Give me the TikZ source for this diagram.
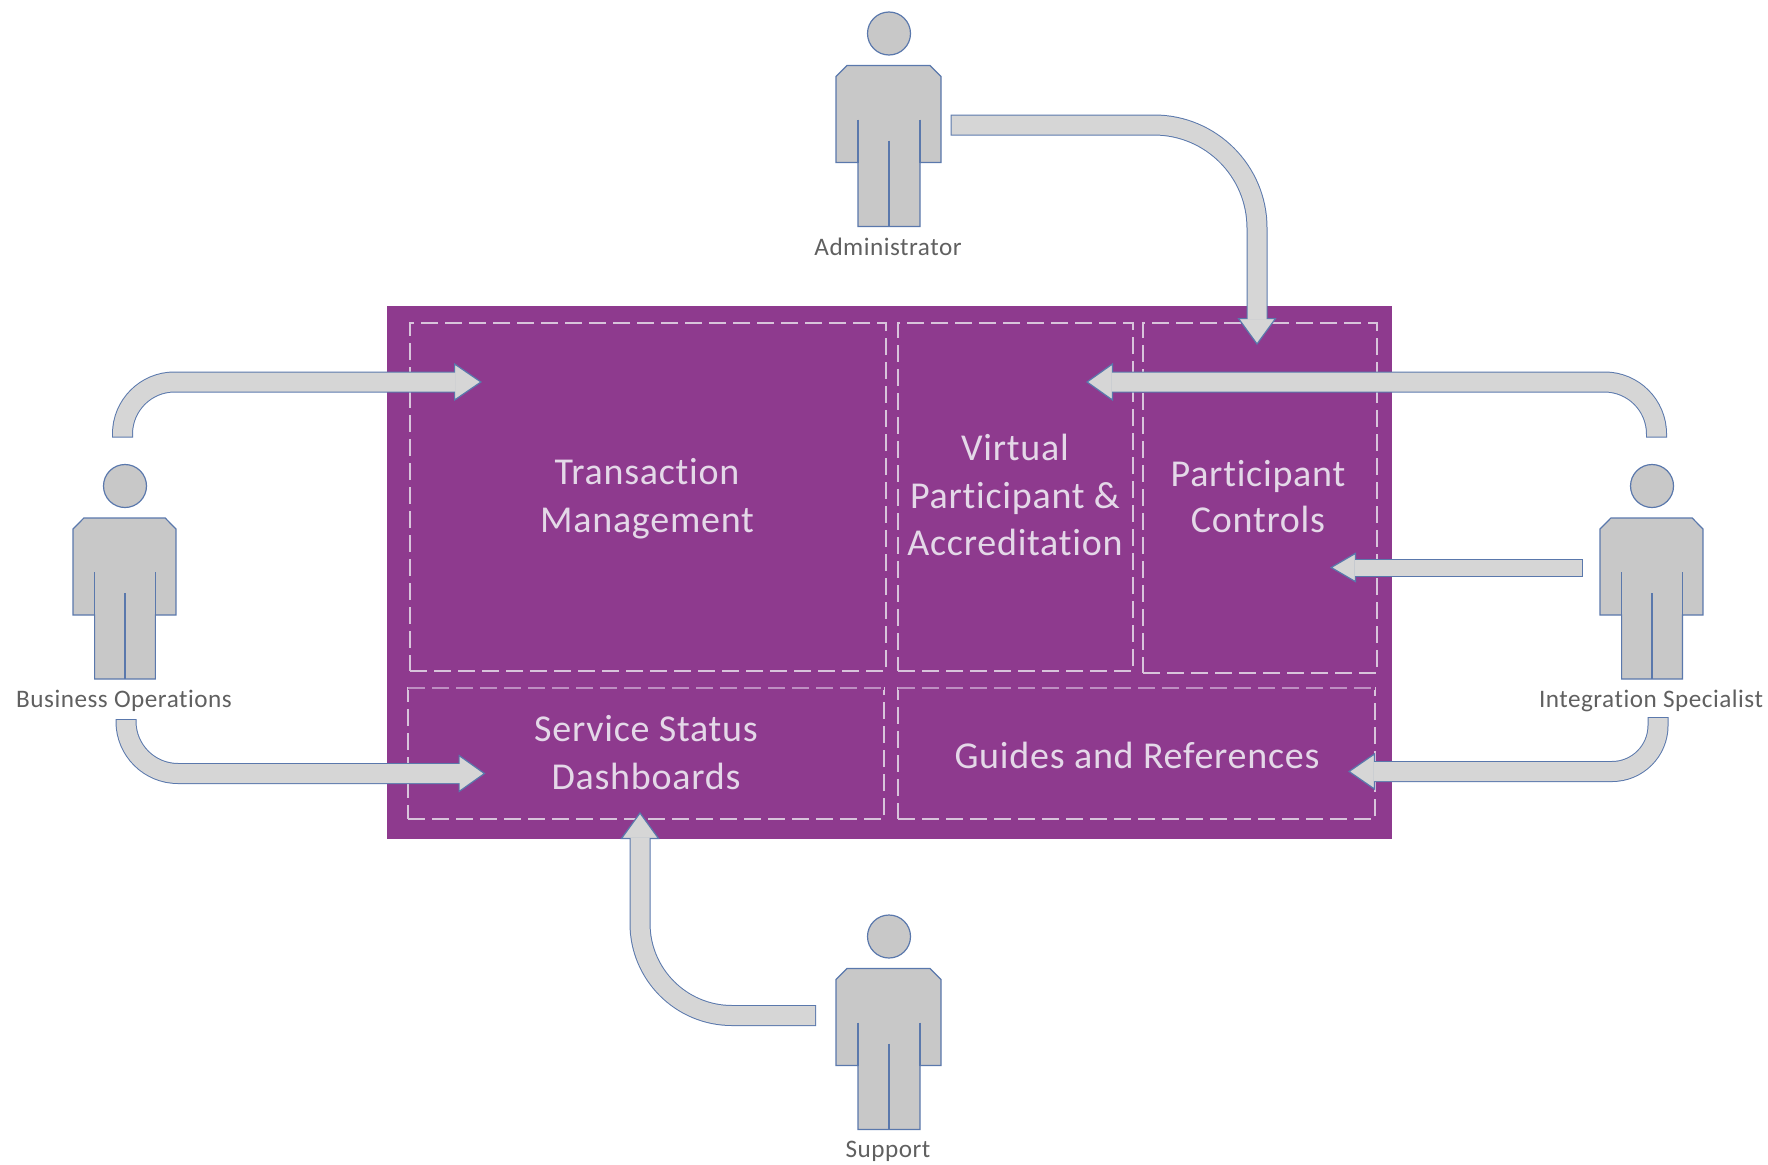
\documentclass[tikz,border=0pt]{standalone}
\usepackage{fontspec}
\setmainfont{Carlito}
\newfontfamily\widecarlito{Carlito}[LetterSpace=2,Ligatures=NoCommon]
\usetikzlibrary{arrows.meta}
\definecolor{panel}{HTML}{8E3A8E}
\definecolor{boxdash}{HTML}{D8C4DB}
\definecolor{boxdashtop}{HTML}{BE8FC2}
\definecolor{paneltext}{HTML}{E4D8E8}
\definecolor{personfill}{HTML}{C8C8C8}
\definecolor{arrowfill}{HTML}{D6D6D6}
\definecolor{bluedge}{HTML}{5A78AC}
\definecolor{labeltext}{HTML}{606060}
\tikzset{
  zone/.style={draw=boxdash, line width=1.5pt, dash pattern=on 17pt off 7pt, inner sep=0pt, outer sep=0pt},
  zonetext/.style={text=paneltext, align=center, font=\widecarlito\fontsize{38}{47.5}\selectfont, anchor=base},
  who/.style={text=labeltext, font=\widecarlito\fontsize{25.2}{28}\selectfont, anchor=base},
  personline/.style={draw=bluedge, line width=1.2pt, fill=personfill, line join=miter},
  limb/.style={draw=bluedge, line width=1.2pt},
  person/.pic={
    \node[circle, personline, minimum size=43pt, inner sep=0pt] (-head) at (0,0) {};
    \draw[personline] (-53,43) -- (-42,32) -- (41,32) -- (52,43) -- (52,129) -- (31,129) -- (31,193)
      -- (-31,193) -- (-31,129) -- (-53,129) -- cycle;
    \draw[limb] (-31,86) -- (-31,129);
    \draw[limb] (31,86) -- (31,129);
    \draw[limb] (0,107) -- (0,193);
  }
}
\newcommand{\blockarrow}[5]{%
  \draw[bluedge, line width=#1pt+2pt, rounded corners=#4pt,
     -{Triangle[length=#2pt, width=#3pt, fill=arrowfill, color=bluedge, line width=1.2pt]}] #5;
  \draw[arrowfill, line width=#1pt, rounded corners=#4pt, shorten <=1pt, shorten >=#2pt-1.5pt] #5;
}
\begin{document}
\begin{tikzpicture}[x=1pt, y=-1pt]
\useasboundingbox (0,0) rectangle (1768,1164);

\node[fill=panel, inner sep=0pt, minimum width=1005pt, minimum height=533pt] (panel) at (889.5,572.5) {};

\node[zone, minimum width=476pt, minimum height=348pt] (tm) at (648,497) {};
\node[zone, minimum width=235pt, minimum height=348pt] (vp) at (1015.5,497) {};
\node[zone, minimum width=234pt, minimum height=350pt] (pc) at (1260,498) {};
\node[zone, minimum width=476pt, minimum height=131pt] (ss) at (646,753.5) {};
\node[zone, minimum width=477pt, minimum height=131pt] (gr) at (1136.5,753.5) {};
\draw[panel, line width=3pt] (ss.north west) -- (ss.north east);
\draw[panel, line width=3pt] (gr.north west) -- (gr.north east);
\draw[boxdashtop, line width=2.6pt, dash pattern=on 17pt off 7pt] (ss.north west) -- (ss.north east);
\draw[boxdashtop, line width=2.6pt, dash pattern=on 17pt off 7pt] (gr.north west) -- (gr.north east);

\node[zonetext] (tmtext) at (647,532) {Transaction\\Management};
\node[zonetext] (vptext) at (1015,555.3) {Virtual\\[1pt]Participant \&\\[-1pt]Accreditation};
\node[zonetext] (pctext) at (1258,532) {Participant\\[-2pt]Controls};
\node[zonetext] (sstext) at (646,789) {Service Status\\Dashboards};
\node[zonetext] (grtext) at (1137,768) {Guides and References};

\pic (adm) at (889,33.5) {person};
\pic[xscale=.98] (biz) at (125,486) {person};
\pic[xscale=.98] (int) at (1652,486) {person};
\pic (sup) at (889,936.5) {person};

\node[who] (admlabel) at (888,255) {Administrator};
\node[who] (bizlabel) at (124,707.7) {Business Operations};
\node[who] (intlabel) at (1651,707.7) {Integration Specialist};
\node[who] (suplabel) at (888,1157.7) {Support};

\coordinate (a1s) at (950.5,125);   \coordinate (a1c) at (1257,125);  \coordinate (a1e) at (1257,345);
\coordinate (a2s) at (122.5,437.5); \coordinate (a2c) at (122.5,382); \coordinate (a2e) at (482,382);
\coordinate (a3s) at (126,719);     \coordinate (a3c) at (126,773.5); \coordinate (a3e) at (485.5,773.5);
\coordinate (a4s) at (1656.5,437.5);\coordinate (a4c) at (1656.5,382);\coordinate (a4e) at (1086,382);
\coordinate (a5s) at (1582.5,567.5);\coordinate (a5e) at (1330,567.5);
\coordinate (a6s) at (1658,717);    \coordinate (a6c) at (1658,771.5);\coordinate (a6e) at (1348,771.5);
\coordinate (a7s) at (816,1015.5);  \coordinate (a7c) at (640,1015.5);\coordinate (a7e) at (640,812);

\blockarrow{19}{27}{39}{103}{(a1s) -- (a1c) -- (a1e)}
\blockarrow{19}{28}{38}{52}{(a2s) -- (a2c) -- (a2e)}
\blockarrow{19}{27}{38}{52}{(a3s) -- (a3c) -- (a3e)}
\blockarrow{19}{27}{38}{52}{(a4s) -- (a4c) -- (a4e)}
\blockarrow{16}{26}{30}{0}{(a5s) -- (a5e)}
\blockarrow{19}{27}{37}{46}{(a6s) -- (a6c) -- (a6e)}
\blockarrow{19}{27}{39}{92}{(a7s) -- (a7c) -- (a7e)}
\end{tikzpicture}
\end{document}
